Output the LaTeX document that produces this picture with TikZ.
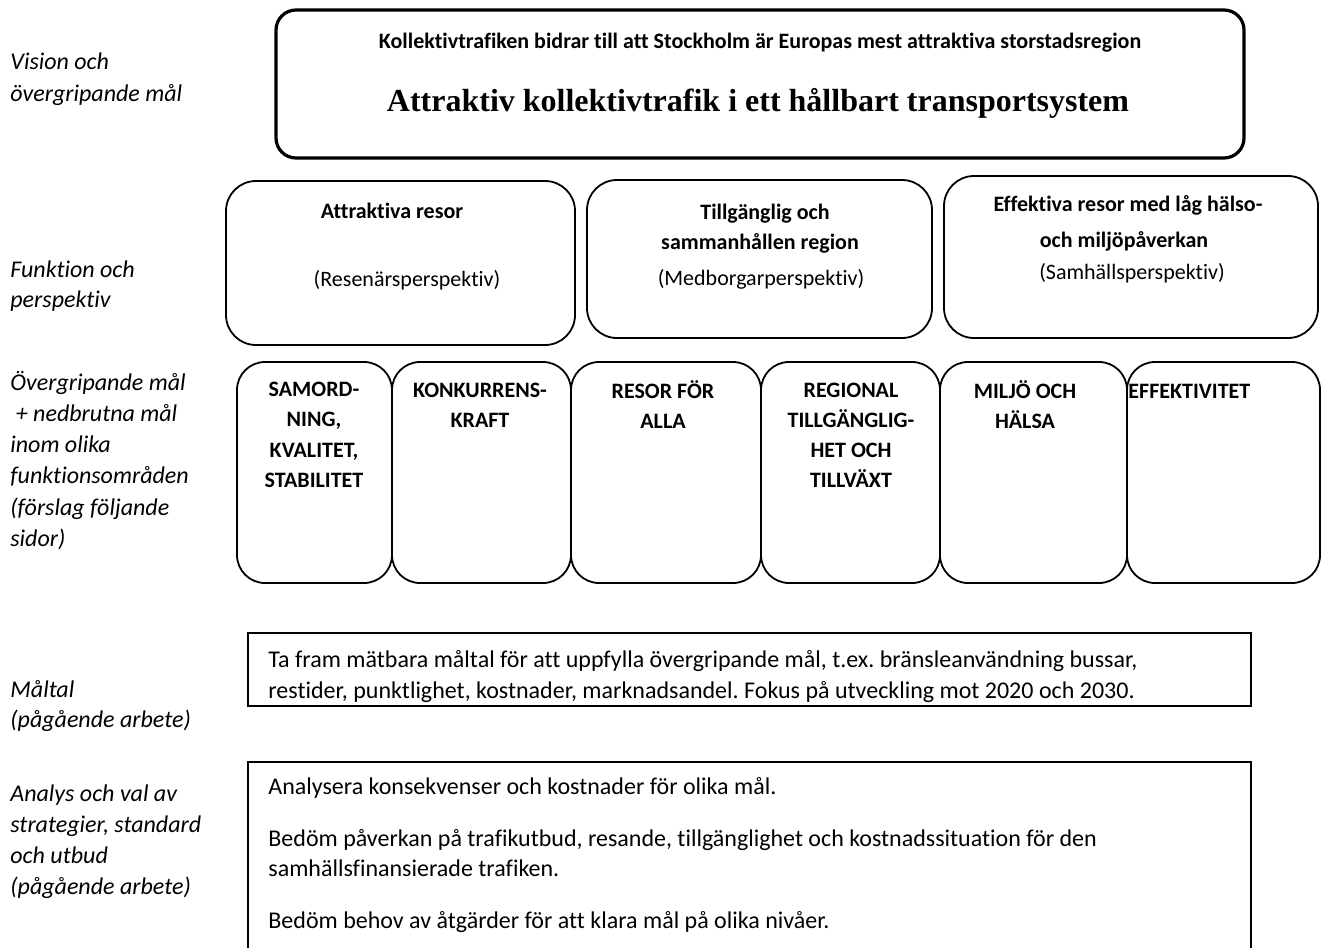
\documentclass[tikz,border=0pt]{standalone}
\usepackage{fontspec}
\setmainfont{Carlito}[Ligatures=NoCommon]
\newfontfamily\headfont{Liberation Serif}
\usetikzlibrary{fit}
\frenchspacing
\begin{document}
\begin{tikzpicture}[x=0.5pt,y=-0.5pt,
  lbl/.style={anchor=base west, inner sep=0, font=\fontsize{12}{14}\selectfont\itshape},
  txt/.style={anchor=base west, inner sep=0, font=\fontsize{12}{14}\selectfont},
  ctr/.style={anchor=base, inner sep=0, font=\fontsize{11}{13}\selectfont},
  bctr/.style={anchor=base, inner sep=0, font=\fontsize{11}{13}\selectfont\bfseries},
  bcap/.style={anchor=base, inner sep=0, font=\fontsize{11}{13}\selectfont\bfseries},
  head/.style={anchor=base, inner sep=0, font=\fontsize{16}{18}\selectfont\headfont\bfseries},
  topbox/.style={draw, line width=1.6pt, rounded corners=10pt, inner sep=0},
  rbox/.style={draw, line width=0.9pt, rounded corners=15pt, inner sep=0},
  cbox/.style={draw, line width=0.9pt, rounded corners=14pt, inner sep=0},
  sbox/.style={draw, line width=0.8pt, inner sep=0},
]
\useasboundingbox (0,0) rectangle (1325,947);
\clip (0,0) rectangle (1325,947);
\fill[white] (0,0) rectangle (1325,947);

% left labels
\foreach \t [count=\i] in {{Vision och}, {övergripande mål}}
  \node[lbl] (la\i) at (10,69+32*\i-32) {\t};
\foreach \t [count=\i] in {{Funktion och}, {perspektiv}}
  \node[lbl] (lb\i) at (10,277+30*\i-30) {\t};
\foreach \t [count=\i] in {{Övergripande mål}, {\ + nedbrutna mål}, {inom olika}, {funktionsområden}, {(förslag följande}, {sidor)}}
  \node[lbl] (lc\i) at (10,390+31.3*\i-31.3) {\t};
\foreach \t [count=\i] in {{Måltal}, {(pågående arbete)}}
  \node[lbl] (ld\i) at (10,697+30*\i-30) {\t};
\foreach \t [count=\i] in {{Analys och val av}, {strategier, standard}, {och utbud}, {(pågående arbete)}}
  \node[lbl] (le\i) at (10,801+31*\i-31) {\t};

% top box
\node[topbox, fit={(276,10)(1244,158)}] (top) {};
\node[bctr] (top1) at (760,49) {Kollektivtrafiken bidrar till att Stockholm är Europas mest attraktiva storstadsregion};
\node[head] (top2) at (758,112) {Attraktiv kollektivtrafik i ett hållbart transportsystem};

% row 2
\node[rbox, fit={(226,181)(575,345)}] (f1) {};
\node[rbox, fit={(587,180)(932,338)}] (f2) {};
\node[rbox, fit={(944,176)(1318,338)}] (f3) {};
\node[bctr] (f1a) at (392,218) {Attraktiva resor};
\node[ctr] (f1b) at (407,286) {(Resenärsperspektiv)};
\node[bctr] (f2a) at (765,219) {Tillgänglig och};
\node[bctr] (f2b) at (760,249) {sammanhållen region};
\node[ctr] (f2c) at (761,285) {(Medborgarperspektiv)};
\node[bctr] (f3a) at (1128,211) {Effektiva resor med låg hälso-};
\node[bctr] (f3b) at (1124,247) {och miljöpåverkan};
\node[ctr] (f3c) at (1132,279) {(Samhällsperspektiv)};

% row 3
\node[cbox, fit={(237,362)(392,583)}] (g1) {};
\node[cbox, fit={(392,362)(571,583)}] (g2) {};
\node[cbox, fit={(571,362)(761,583)}] (g3) {};
\node[cbox, fit={(761,362)(940,583)}] (g4) {};
\node[cbox, fit={(940,362)(1127,583)}] (g5) {};
\node[cbox, fit={(1127,362)(1320,583)}] (g6) {};
\foreach \t [count=\i] in {{SAMORD-}, {NING,}, {KVALITET,}, {STABILITET}}
  \node[bcap] (g1t\i) at (314,396+30.5*\i-30.5) {\t};
\foreach \t [count=\i] in {{KONKURRENS-}, {KRAFT}}
  \node[bcap] (g2t\i) at (480,397+30*\i-30) {\t};
\foreach \t [count=\i] in {{RESOR FÖR}, {ALLA}}
  \node[bcap] (g3t\i) at (663,398+30*\i-30) {\t};
\foreach \t [count=\i] in {{REGIONAL}, {TILLGÄNGLIG-}, {HET OCH}, {TILLVÄXT}}
  \node[bcap] (g4t\i) at (851,397+30*\i-30) {\t};
\foreach \t [count=\i] in {{MILJÖ OCH}, {HÄLSA}}
  \node[bcap] (g5t\i) at (1025,398+30*\i-30) {\t};
\node[bcap, anchor=base west] (g6t1) at (1128,398) {EFFEKTIVITET};

% row 4
\node[sbox, fit={(248,633)(1251,706)}] (m) {};
\node[txt] (m1) at (268,667) {Ta fram mätbara måltal för att uppfylla övergripande mål, t.ex. bränsleanvändning bussar,};
\node[txt] (m2) at (268,698) {restider, punktlighet, kostnader, marknadsandel. Fokus på utveckling mot 2020 och 2030.};

% row 5
\node[sbox, fit={(248,762)(1251,970)}] (a) {};
\node[txt] (a1) at (268,794) {Analysera konsekvenser och kostnader för olika mål.};
\node[txt] (a2) at (268,846) {Bedöm påverkan på trafikutbud, resande, tillgänglighet och kostnadssituation för den};
\node[txt] (a3) at (268,876) {samhällsfinansierade trafiken.};
\node[txt] (a4) at (268,928) {Bedöm behov av åtgärder för att klara mål på olika nivåer.};
\end{tikzpicture}
\end{document}
